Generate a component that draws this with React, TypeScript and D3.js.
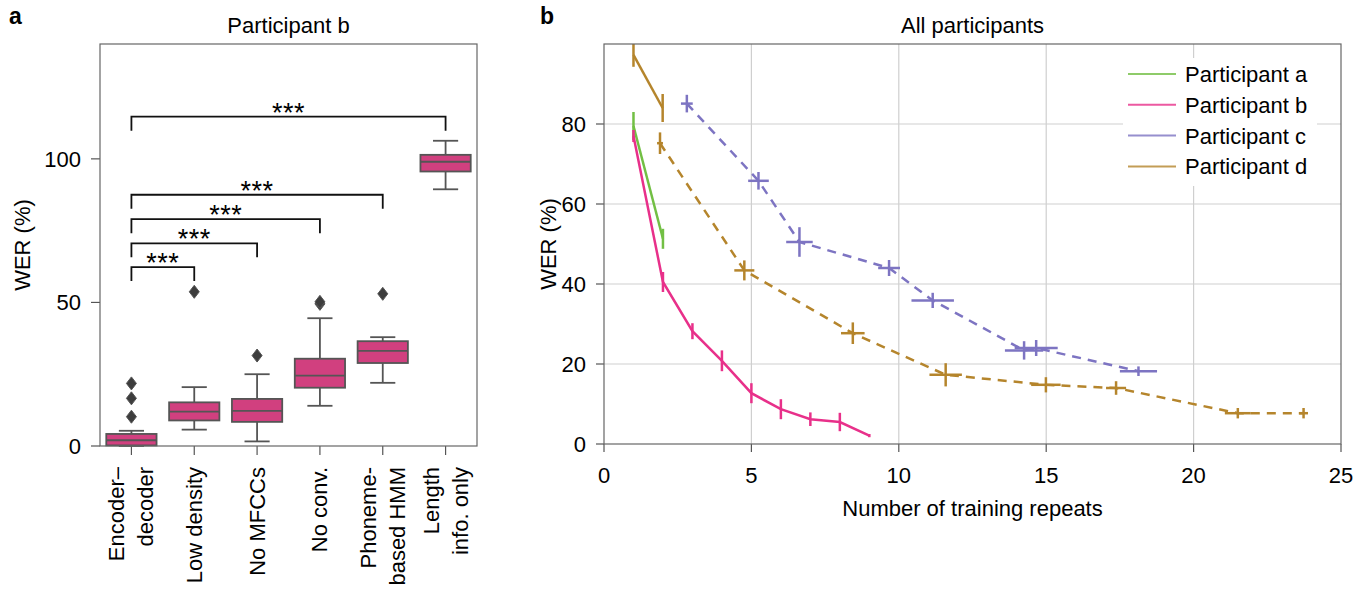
import React from "react";
import * as d3 from "d3";

// ---------- Panel a data (box plot, participant b) ----------
const boxCategories = ["Encoder–\ndecoder", "Low density", "No MFCCs", "No conv.", "Phoneme-\nbased HMM", "Length\ninfo. only"];
const boxWhiskerLow = [0, 5.7, 1.6, 14, 22, 89.4];
const boxQ1 = [0.2, 8.9, 8.4, 20.3, 28.9, 95.6];
const boxMedian = [2, 12, 12.2, 24.5, 33.1, 99];
const boxQ3 = [4.2, 15.2, 16.4, 30.4, 36.5, 101.4];
const boxWhiskerHigh = [5.3, 20.5, 25, 44.5, 37.9, 106.3];
const boxOutliers = [[10.2, 16.6, 21.8], [53.7], [31.5], [49.5, 50.2], [53], []];
const bracketTargets = [1, 2, 3, 4, 5];
const bracketHeights = [62.3, 70.6, 79, 87.5, 114.7];
const bracketLabels = ["***", "***", "***", "***", "***"];
const aYTicks = [0, 50, 100];

// ---------- Panel b data (all participants) ----------
const aX = [1, 2];
const aY = [79.5, 51.3];
const aYErr = [3.5, 2.5];

const bX = [1, 2, 3, 4, 5, 6, 7, 8, 9];
const bY = [77, 40.5, 28.2, 20.8, 12.7, 8.7, 6.2, 5.5, 2.1];
const bYErr = [1.5, 2.5, 2, 2.6, 2.5, 2.5, 1.7, 2.3, 0.4];

const cX = [2.81, 5.24, 6.63, 9.67, 11.15, 14.25, 14.66, 18.13];
const cY = [85.1, 65.8, 50.5, 44, 35.9, 23.4, 24, 18.2];
const cXErr = [0.2, 0.35, 0.45, 0.37, 0.72, 0.65, 0.73, 0.63];
const cYErr = [2.2, 2.2, 3.7, 2, 1.9, 2.3, 2, 1.2];

const d1X = [1, 1.99];
const d1Y = [97.3, 84];
const d1YErr = [3, 3.5];

const d2X = [1.9, 4.76, 8.44, 11.59, 14.99, 17.37, 21.5, 23.73];
const d2Y = [75.2, 43.4, 27.7, 17.3, 14.8, 14, 7.7, 7.7];
const d2XErr = [0.1, 0.34, 0.4, 0.55, 0.5, 0.34, 0.44, 0.15];
const d2YErr = [2.7, 2.5, 2.7, 2.9, 1.9, 1.7, 1.3, 1.3];

const bXTicks = [0, 5, 10, 15, 20, 25];
const bYTicks = [0, 20, 40, 60, 80];
const legendLabels = ["Participant a", "Participant b", "Participant c", "Participant d"];
const legendColors = ["#72bf44", "#e8308a", "#7d74c2", "#b5852c"];

const FONT = '"Liberation Sans", Arial, Helvetica, sans-serif';
const FS = 22;

export default function App() {
  // Panel a scales
  const xa = d3.scaleBand<number>().domain(d3.range(boxCategories.length)).range([100, 477]).paddingInner(0.2).paddingOuter(0.1);
  const ya = d3.scaleLinear().domain([0, 140]).range([446, 44]);
  const bw = xa.bandwidth();
  const cxa = (i: number) => (xa(i) as number) + bw / 2;

  // Panel b scales
  const xb = d3.scaleLinear().domain([0, 25]).range([604, 1341]);
  const yb = d3.scaleLinear().domain([0, 100]).range([444, 44]);
  const line = d3.line<[number, number]>().x((d) => xb(d[0])).y((d) => yb(d[1]));
  const zip = (xs: number[], ys: number[]) => xs.map((x, i) => [x, ys[i]] as [number, number]);

  const boxFill = "#d1407f";
  const boxStroke = "#555";

  const errBars = (xs: number[], ys: number[], xe: number[] | null, ye: number[] | null, color: string, key: string) => (
    <g key={key} stroke={color} strokeWidth={2.5}>
      {xs.map((x, i) => (
        <g key={i}>
          {ye && <line x1={xb(x)} x2={xb(x)} y1={yb(ys[i] - ye[i])} y2={yb(ys[i] + ye[i])} />}
          {xe && <line x1={xb(x - xe[i])} x2={xb(x + xe[i])} y1={yb(ys[i])} y2={yb(ys[i])} />}
        </g>
      ))}
    </g>
  );

  const diamond = (x: number, y: number, k: string) => (
    <path key={k} d={`M${x},${y - 6.5}L${x + 5},${y}L${x},${y + 6.5}L${x - 5},${y}Z`} fill="#3d3d3d" stroke="#555" strokeWidth={1} />
  );

  return (
    <svg width={1371} height={591} style={{ position: "absolute", left: 0, top: 0, background: "#fff" }} fontFamily={FONT}>
      <rect width={1371} height={591} fill="#fff" />
      {/* ---------------- Panel a ---------------- */}
      <text x={9} y={24} fontSize={23} fontWeight="bold">a</text>
      <text x={(100 + 477) / 2} y={33} fontSize={FS} textAnchor="middle">Participant b</text>
      <text transform={`translate(30,${(44 + 446) / 2}) rotate(-90)`} fontSize={FS} textAnchor="middle">WER (%)</text>
      {/* y ticks */}
      {aYTicks.map((t) => (
        <g key={t}>
          <line x1={91} x2={100} y1={ya(t)} y2={ya(t)} stroke="#555" strokeWidth={1.2} />
          <text x={81} y={ya(t)} dy="0.36em" fontSize={FS} textAnchor="end">{t}</text>
        </g>
      ))}
      {/* x ticks and labels */}
      {boxCategories.map((c, i) => {
        const lines = c.split("\n");
        const n = lines.length;
        return (
          <g key={c}>
            <line x1={cxa(i)} x2={cxa(i)} y1={446} y2={455} stroke="#555" strokeWidth={1.2} />
            {lines.map((l, j) => {
              const off = (j - (n - 1) / 2) * 29;
              return (
                <text key={j} transform={`translate(${cxa(i) + off + 7.5},467) rotate(-90)`} fontSize={FS} textAnchor="end">{l}</text>
              );
            })}
          </g>
        );
      })}
      {/* boxes */}
      {boxCategories.map((c, i) => {
        const x0 = xa(i) as number;
        const cx = cxa(i);
        return (
          <g key={"box" + i}>
            <line x1={cx} x2={cx} y1={ya(boxWhiskerLow[i])} y2={ya(boxQ1[i])} stroke={boxStroke} strokeWidth={1.8} />
            <line x1={cx} x2={cx} y1={ya(boxWhiskerHigh[i])} y2={ya(boxQ3[i])} stroke={boxStroke} strokeWidth={1.8} />
            <line x1={cx - bw / 4} x2={cx + bw / 4} y1={ya(boxWhiskerLow[i])} y2={ya(boxWhiskerLow[i])} stroke={boxStroke} strokeWidth={1.8} />
            <line x1={cx - bw / 4} x2={cx + bw / 4} y1={ya(boxWhiskerHigh[i])} y2={ya(boxWhiskerHigh[i])} stroke={boxStroke} strokeWidth={1.8} />
            <rect x={x0} width={bw} y={ya(boxQ3[i])} height={ya(boxQ1[i]) - ya(boxQ3[i])} fill={boxFill} stroke={boxStroke} strokeWidth={1.8} />
            <line x1={x0} x2={x0 + bw} y1={ya(boxMedian[i])} y2={ya(boxMedian[i])} stroke={boxStroke} strokeWidth={1.8} />
            {boxOutliers[i].map((o, k) => diamond(cx, ya(o), `o${i}-${k}`))}
          </g>
        );
      })}
      {/* significance brackets */}
      {bracketTargets.map((t, k) => {
        const y = ya(bracketHeights[k]);
        const x1 = cxa(0);
        const x2 = cxa(t);
        return (
          <g key={"br" + k}>
            <path d={`M${x1},${y + 14}V${y}H${x2}V${y + 14}`} fill="none" stroke="#111" strokeWidth={1.8} />
            <text x={(x1 + x2) / 2} y={y + 5} fontSize={27} textAnchor="middle" letterSpacing={0.5}>{bracketLabels[k]}</text>
          </g>
        );
      })}
      <rect x={100} y={44} width={377} height={402} fill="none" stroke="#666" strokeWidth={1.2} />

      {/* ---------------- Panel b ---------------- */}
      <text x={540} y={24} fontSize={23} fontWeight="bold">b</text>
      <text x={(604 + 1341) / 2} y={33} fontSize={FS} textAnchor="middle">All participants</text>
      <text transform={`translate(556,${(44 + 444) / 2}) rotate(-90)`} fontSize={FS} textAnchor="middle">WER (%)</text>
      <text x={(604 + 1341) / 2} y={516} fontSize={FS} textAnchor="middle">Number of training repeats</text>
      <defs>
        <clipPath id="plotb">
          <rect x={604} y={44} width={737} height={400} />
        </clipPath>
      </defs>
      {/* grid */}
      {bXTicks.slice(1, -1).map((t) => (
        <line key={"gx" + t} x1={xb(t)} x2={xb(t)} y1={44} y2={444} stroke="#cfcfcf" strokeWidth={1.2} />
      ))}
      {bYTicks.slice(1).map((t) => (
        <line key={"gy" + t} x1={604} x2={1341} y1={yb(t)} y2={yb(t)} stroke="#cfcfcf" strokeWidth={1.2} />
      ))}
      {/* ticks */}
      {bXTicks.map((t) => (
        <g key={"xt" + t}>
          <line x1={xb(t)} x2={xb(t)} y1={444} y2={452} stroke="#555" strokeWidth={1.2} />
          <text x={xb(t)} y={483} fontSize={FS} textAnchor="middle">{t}</text>
        </g>
      ))}
      {bYTicks.map((t) => (
        <g key={"yt" + t}>
          <line x1={596} x2={604} y1={yb(t)} y2={yb(t)} stroke="#555" strokeWidth={1.2} />
          <text x={586} y={yb(t)} dy="0.36em" fontSize={FS} textAnchor="end">{t}</text>
        </g>
      ))}
      {/* legend background */}
      <rect x={1123} y={58} width={194} height={128} fill="#fff" />
      {legendLabels.map((l, i) => (
        <g key={l}>
          <line x1={1128} x2={1176} y1={74 + i * 30.8} y2={74 + i * 30.8} stroke={legendColors[i]} strokeWidth={2} opacity={0.8} />
          <text x={1185} y={74 + i * 30.8} dy="0.36em" fontSize={FS}>{l}</text>
        </g>
      ))}
      <g clipPath="url(#plotb)" fill="none" strokeLinecap="butt">
        {/* participant d solid */}
        <path d={line(zip(d1X, d1Y)) as string} stroke={legendColors[3]} strokeWidth={2.5} />
        {errBars(d1X, d1Y, null, d1YErr, legendColors[3], "d1")}
        {/* participant d dashed */}
        <path d={line(zip(d2X, d2Y)) as string} stroke={legendColors[3]} strokeWidth={2.5} strokeDasharray="9 7" />
        {errBars(d2X, d2Y, d2XErr, d2YErr, legendColors[3], "d2")}
        {/* participant c */}
        <path d={line(zip(cX, cY)) as string} stroke={legendColors[2]} strokeWidth={2.5} strokeDasharray="9 7" />
        {errBars(cX, cY, cXErr, cYErr, legendColors[2], "c")}
        {/* participant a */}
        <path d={line(zip(aX, aY)) as string} stroke={legendColors[0]} strokeWidth={2.5} />
        {errBars(aX, aY, null, aYErr, legendColors[0], "a")}
        {/* participant b */}
        <path d={line(zip(bX, bY)) as string} stroke={legendColors[1]} strokeWidth={2.5} />
        {errBars(bX, bY, null, bYErr, legendColors[1], "b")}
      </g>
      <rect x={604} y={44} width={737} height={400} fill="none" stroke="#666" strokeWidth={1.2} />
    </svg>
  );
}
